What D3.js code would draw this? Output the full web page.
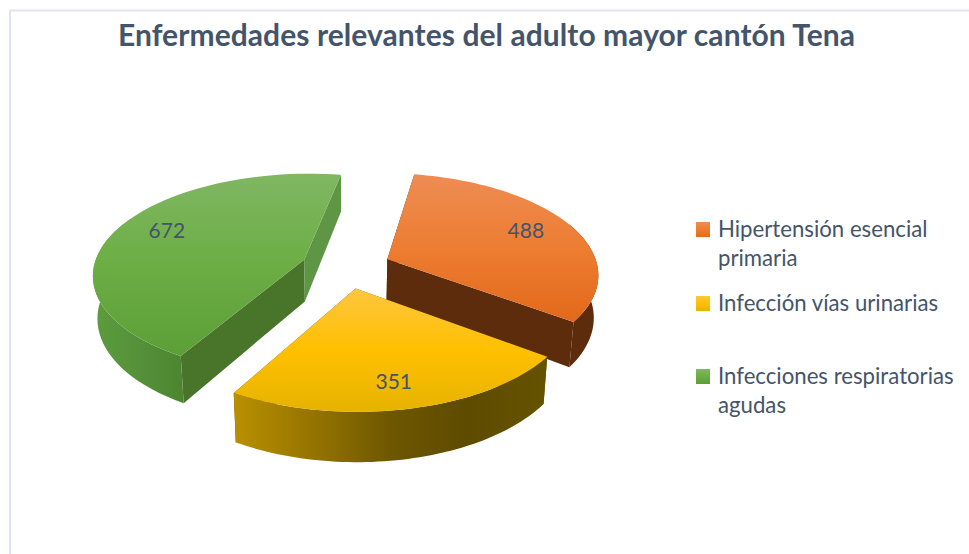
<!DOCTYPE html>
<html>
<head>
<meta charset="utf-8">
<script src="https://cdn.jsdelivr.net/npm/d3@7"></script>
<style>
  html, body { margin: 0; padding: 0; background: #fff; }
  svg { display: block; }
  text { font-family: Lato, "Open Sans", sans-serif; fill: #44546a; }
</style>
</head>
<body>
<div id="chart"></div>
<script>
const title = "Enfermedades relevantes del adulto mayor cantón Tena";
const categories = ["Hipertensión esencial primaria", "Infección vías urinarias", "Infecciones respiratorias agudas"];
const values = [488, 351, 672];
const legendLines = [["Hipertensión esencial", "primaria"], ["Infección vías urinarias"], ["Infecciones respiratorias", "agudas"]];

const width = 969, height = 554;

// pie plane -> screen, simple perspective with a tilted floor
const cx = 346, cy = 267, radius = 210.5, explode = 45, depth = 42;
const viewDist = 1529, horizon = -458;
const startAngle = 10 * Math.PI / 180;

const screenY = d3.scaleLinear().domain([0, 1]).range([horizon, cy]);

function project(X, Y, h) {
  h = h || 0;
  const s = viewDist / (viewDist - Y);
  // the bottom of the slice pulls in a little towards the middle
  return [cx + X * s * (1 - 0.018 * h / depth), screenY(s) + h * s];
}

const pie = d3.pie().sort(null).startAngle(startAngle).endAngle(startAngle + 2 * Math.PI);
const arcs = pie(values);

const tops = [
  ["#ee8c54", "#ed7d31", "#e2691b"],
  ["#fdc63f", "#ffc000", "#e6b300"],
  ["#80b763", "#6cae44", "#5c9f38"]
];
const radialWalls = [
  ["#5c2c0c", "#5c2c0c"],
  ["#5f4d00", "#5f4d00"],
  ["#48752a", "#5f9646"]
];
const outerWalls = [
  ["#5c2c0c", "#5c2c0c", "#5c2c0c"],
  ["#ba9000", "#957400", "#6e5700", "#5e4b00", "#665300"],
  ["#5c9c3d", "#55913a", "#4c852f"]
];
const labelFrac = [0.76, 0.80, 0.76];
const labelTurn = [-1, 1, 4];

const svg = d3.select("#chart").append("svg")
  .attr("width", width)
  .attr("height", height);

const defs = svg.append("defs");

function addGradient(id, colors, horizontal) {
  const g = defs.append("linearGradient").attr("id", id)
    .attr("x1", 0).attr("y1", 0)
    .attr("x2", horizontal ? 1 : 0).attr("y2", horizontal ? 0 : 1);
  colors.forEach((c, i) => {
    g.append("stop").attr("offset", i / (colors.length - 1)).attr("stop-color", c);
  });
}

tops.forEach((c, i) => addGradient("top" + i, c, false));
outerWalls.forEach((c, i) => addGradient("outer" + i, c, true));

// frame of the chart area
svg.append("path")
  .attr("d", "M10,554V10.5H969")
  .attr("fill", "none")
  .attr("stroke", "#dfe4ef")
  .attr("stroke-width", 2);

const line = d3.line();

// green first, then orange, yellow sits in front
[2, 0, 1].forEach(i => {
  const d = arcs[i];
  const mid = (d.startAngle + d.endAngle) / 2;
  const ax = explode * Math.sin(mid), ay = -explode * Math.cos(mid);
  const angles = d3.range(0, 61).map(k => d.startAngle + (d.endAngle - d.startAngle) * k / 60);
  const rim = h => angles.map(a => project(ax + radius * Math.sin(a), ay - radius * Math.cos(a), h));
  const apex = h => project(ax, ay, h);
  const g = svg.append("g");

  // radial walls, start side then end side
  const top = rim(0), bot = rim(depth);
  g.append("path")
    .attr("d", line([apex(0), top[0], bot[0], apex(depth)]) + "Z")
    .attr("fill", radialWalls[i][0]);
  g.append("path")
    .attr("d", line([apex(0), top[60], bot[60], apex(depth)]) + "Z")
    .attr("fill", radialWalls[i][1]);

  // outer wall, runs a bit past the sides, the top face covers the rest
  const front = d3.range(0, 61).filter(k => Math.cos(angles[k]) < 0.4);
  const wallTop = front.map(k => top[k]);
  const wallBot = front.map(k => bot[k]).reverse();
  g.append("path")
    .attr("d", line(wallTop.concat(wallBot)) + "Z")
    .attr("fill", "url(#outer" + i + ")");

  // top face
  g.append("path")
    .attr("d", line([apex(0)].concat(top)) + "Z")
    .attr("fill", "url(#top" + i + ")");

  // value label
  const f = radius * labelFrac[i];
  const la = mid + labelTurn[i] * Math.PI / 180;
  const p = project(ax + f * Math.sin(la), ay - f * Math.cos(la), 0);
  g.append("text")
    .attr("x", p[0])
    .attr("y", p[1] + 7)
    .attr("text-anchor", "middle")
    .attr("font-size", 21)
    .text(values[i]);
});

svg.append("text")
  .attr("x", 118)
  .attr("y", 46)
  .attr("font-size", 30)
  .attr("font-weight", 700)
  .attr("textLength", 737)
  .attr("lengthAdjust", "spacing")
  .text(title);

// legend
const legendY = d3.scaleOrdinal().domain(categories).range([222, 296, 369]);
const lineStep = 29;
const legend = svg.selectAll("g.legend")
  .data(categories)
  .enter().append("g")
  .attr("class", "legend")
  .attr("transform", d => "translate(696," + legendY(d) + ")");

legend.append("rect")
  .attr("width", 14)
  .attr("height", 15)
  .attr("fill", (d, i) => "url(#top" + i + ")");

legend.each(function (d, i) {
  legendLines[i].forEach((t, j) => {
    d3.select(this).append("text")
      .attr("x", 22)
      .attr("y", 15 + j * lineStep)
      .attr("font-size", 22.2)
      .text(t);
  });
});
</script>
</body>
</html>
